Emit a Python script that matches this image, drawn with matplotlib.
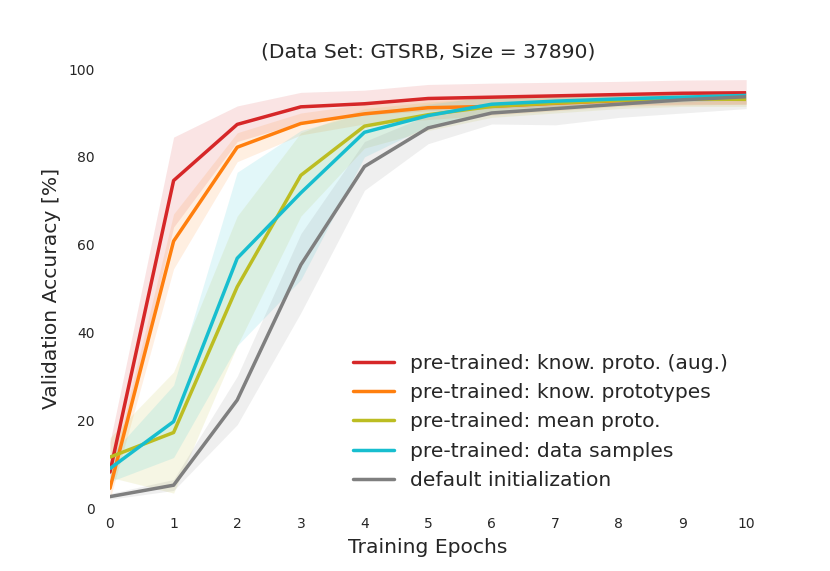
"""Validation accuracy vs. training epochs on GTSRB, mean curves with spread bands -> out.png."""
import matplotlib
matplotlib.use("Agg")
import matplotlib.pyplot as plt
import seaborn as sns

epochs = [0, 1, 2, 3, 4, 5, 6, 7, 8, 9, 10]

labels = [
    "pre-trained: know. proto. (aug.)",
    "pre-trained: know. prototypes",
    "pre-trained: mean proto.",
    "pre-trained: data samples",
    "default initialization",
]

aug_mean = [8.2, 74.6, 87.4, 91.4, 92.1, 93.3, 93.6, 93.9, 94.2, 94.5, 94.6]
aug_lo = [4.0, 64.0, 83.5, 87.8, 89.5, 90.5, 91.0, 91.5, 91.8, 92.0, 92.0]
aug_hi = [15.0, 84.5, 91.6, 94.7, 95.2, 96.5, 96.8, 97.0, 97.2, 97.5, 97.6]

proto_mean = [4.5, 60.8, 82.2, 87.6, 89.8, 91.2, 91.5, 92.2, 92.8, 93.2, 93.5]
proto_lo = [2.0, 54.5, 78.9, 85.0, 87.5, 88.5, 89.5, 90.5, 91.5, 91.8, 92.0]
proto_hi = [7.0, 67.0, 85.5, 90.0, 92.0, 93.5, 93.8, 94.0, 94.2, 94.6, 95.0]

meanp_mean = [11.6, 17.2, 50.4, 75.8, 87.0, 89.6, 91.5, 92.3, 92.9, 93.2, 93.1]
meanp_lo = [7.0, 3.4, 37.0, 66.5, 82.0, 86.0, 89.0, 90.0, 91.0, 91.5, 91.5]
meanp_hi = [16.0, 31.0, 66.5, 85.5, 91.0, 92.5, 93.5, 94.0, 94.3, 94.5, 94.8]

data_mean = [9.0, 19.7, 56.9, 71.8, 85.6, 89.4, 92.0, 92.7, 93.2, 93.6, 94.0]
data_lo = [6.0, 11.5, 37.0, 52.0, 80.0, 87.0, 90.0, 91.0, 91.8, 92.5, 93.0]
data_hi = [12.0, 28.0, 76.5, 86.0, 90.0, 92.0, 93.8, 94.2, 94.5, 94.8, 95.0]

default_mean = [2.6, 5.2, 24.6, 55.4, 77.8, 86.6, 90.0, 91.0, 92.0, 93.0, 93.7]
default_lo = [2.0, 4.0, 19.0, 44.5, 72.4, 83.0, 87.5, 87.3, 89.0, 90.0, 91.0]
default_hi = [3.3, 6.5, 30.0, 62.5, 83.5, 89.5, 92.0, 92.5, 93.5, 94.5, 95.0]

colors = ["#d62728", "#ff7f0e", "#bcbd22", "#17becf", "#7f7f7f"]


def main():
    sns.set_style("white")
    plt.rcParams["font.family"] = ["DejaVu Sans"]
    series = [
        (aug_mean, aug_lo, aug_hi),
        (proto_mean, proto_lo, proto_hi),
        (meanp_mean, meanp_lo, meanp_hi),
        (data_mean, data_lo, data_hi),
        (default_mean, default_lo, default_hi),
    ]
    fig = plt.figure(figsize=(8.3, 5.71), dpi=100)
    ax = fig.add_axes([0.1325, 0.1103, 0.7665, 0.7687])
    for (m, lo, hi), c, lab in zip(series, colors, labels):
        ax.fill_between(epochs, lo, hi, color=c, alpha=0.12, linewidth=0)
        ax.plot(epochs, m, color=c, linewidth=2.5, label=lab)
    ax.set_xlim(0, 10)
    ax.set_ylim(0, 100)
    ax.set_xticks(epochs)
    ax.set_yticks([0, 20, 40, 60, 80, 100])
    ax.tick_params(labelsize=10, colors="#262626", length=0)
    ax.tick_params(axis="x", pad=6.5)
    ax.tick_params(axis="y", pad=11)
    ax.set_xlabel("Training Epochs", fontsize=14.6, color="#262626", labelpad=5)
    ax.set_ylabel("Validation Accuracy [%]", fontsize=14.6, color="#262626", labelpad=5)
    ax.set_title("(Data Set: GTSRB, Size = 37890)", fontsize=14.6, color="#262626", pad=8)
    sns.despine(ax=ax, left=True, bottom=True)
    ax.legend(loc="lower right", fontsize=14.6, frameon=False, borderaxespad=0.5,
              handlelength=2.0, labelspacing=0.5)
    fig.savefig("out.png", dpi=100)


if __name__ == "__main__":
    main()
